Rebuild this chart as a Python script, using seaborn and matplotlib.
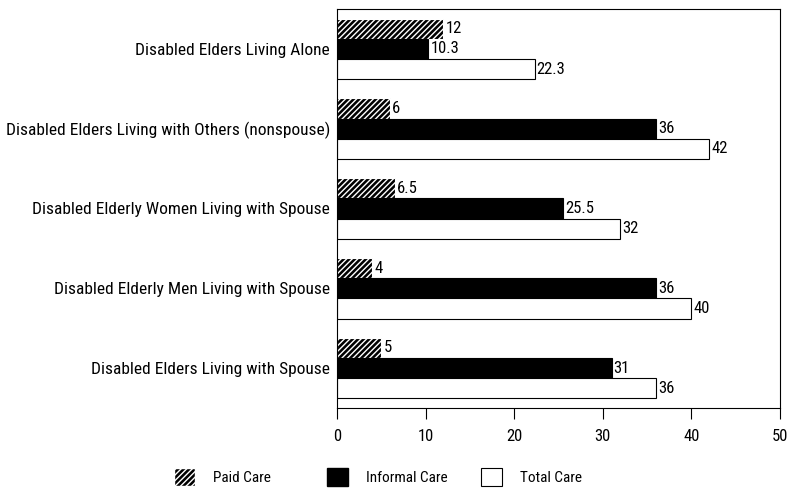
import seaborn as sns
import pandas as pd
import matplotlib.pyplot as plt
from matplotlib import font_manager
from matplotlib.patches import Patch

categories = [
    "Disabled Elders Living Alone",
    "Disabled Elders Living with Others (nonspouse)",
    "Disabled Elderly Women Living with Spouse",
    "Disabled Elderly Men Living with Spouse",
    "Disabled Elders Living with Spouse",
]
series = ["Paid Care", "Informal Care", "Total Care"]
paid_care = [12, 6, 6.5, 4, 5]
informal_care = [10.3, 36, 25.5, 36, 31]
total_care = [22.3, 42, 32, 40, 36]
value_labels = {
    "Paid Care": ["12", "6", "6.5", "4", "5"],
    "Informal Care": ["10.3", "36", "25.5", "36", "31"],
    "Total Care": ["22.3", "42", "32", "40", "36"],
}
x_ticks = [0, 10, 20, 30, 40, 50]

sns.set_style("white")
for key in ["text.color", "xtick.color", "ytick.color", "axes.labelcolor"]:
    plt.rcParams[key] = "black"

# the original uses a narrow (Arial Narrow like) face; use one if present
installed = {f.name for f in font_manager.fontManager.ttflist}
narrow = [n for n in ["Liberation Sans Narrow", "Arial Narrow",
                      "DejaVu Sans Condensed", "Roboto Condensed",
                      "Open Sans Condensed"] if n in installed]
if narrow:
    plt.rcParams["font.family"] = [narrow[0], "DejaVu Sans"]
    cat_fs, tick_fs, val_fs, leg_fs = 12.5, 12, 12, 11
else:
    plt.rcParams["font.family"] = ["Liberation Sans", "DejaVu Sans"]
    cat_fs, tick_fs, val_fs, leg_fs = 10.5, 11.5, 11, 9.5

df = pd.DataFrame({
    "category": categories * 3,
    "series": sum([[s] * len(categories) for s in series], []),
    "value": paid_care + informal_care + total_care,
})

fig = plt.figure(figsize=(7.98, 4.97), dpi=100)
ax = fig.add_axes([0.4223, 0.179, 0.5551, 0.803])

sns.barplot(ax=ax, data=df, x="value", y="category", hue="series",
            order=categories, hue_order=series, orient="h", width=0.76,
            palette=["black", "black", "white"], saturation=1,
            edgecolor="black", linewidth=0.8, legend=False)


def style_hatch(patch):
    patch.set_facecolor("black")
    patch.set_hatch("//////")
    try:
        patch.set_hatchcolor("white")
        patch.set_edgecolor("black")
    except AttributeError:
        patch.set_edgecolor("white")


for container, name in zip(ax.containers, series):
    if name == "Paid Care":
        for p in container.patches:
            style_hatch(p)
    ax.bar_label(container, labels=value_labels[name], padding=1.5,
                 fontsize=val_fs, color="black")

ax.set_xlim(0, 50)
ax.set_xticks(x_ticks)
ax.tick_params(axis="x", direction="out", length=8, width=0.8,
               bottom=True, labelsize=tick_fs, pad=7, color="black")
ax.tick_params(axis="y", length=0, labelsize=cat_fs, pad=5)
ax.set_xlabel("")
ax.set_ylabel("")
for s in ax.spines.values():
    s.set_visible(True)
    s.set_color("black")
    s.set_linewidth(0.8)

h_paid = Patch(facecolor="black", edgecolor="white", hatch="//////")
try:
    h_paid.set_hatchcolor("white")
    h_paid.set_edgecolor("black")
except AttributeError:
    pass
handles = [
    h_paid,
    Patch(facecolor="black", edgecolor="black"),
    Patch(facecolor="white", edgecolor="black", linewidth=0.8),
]
# legend entries sit at fixed column positions, as in the original
for h, lab, xpos in zip(handles, series, [0.218, 0.410, 0.603]):
    fig.legend([h], [lab], loc="center left", bbox_to_anchor=(xpos, 0.04),
               frameon=False, fontsize=leg_fs, borderpad=0, borderaxespad=0,
               handlelength=15 / leg_fs, handleheight=15 / leg_fs,
               handletextpad=13 / leg_fs, labelcolor="black")

fig.savefig("out.png", dpi=100)
